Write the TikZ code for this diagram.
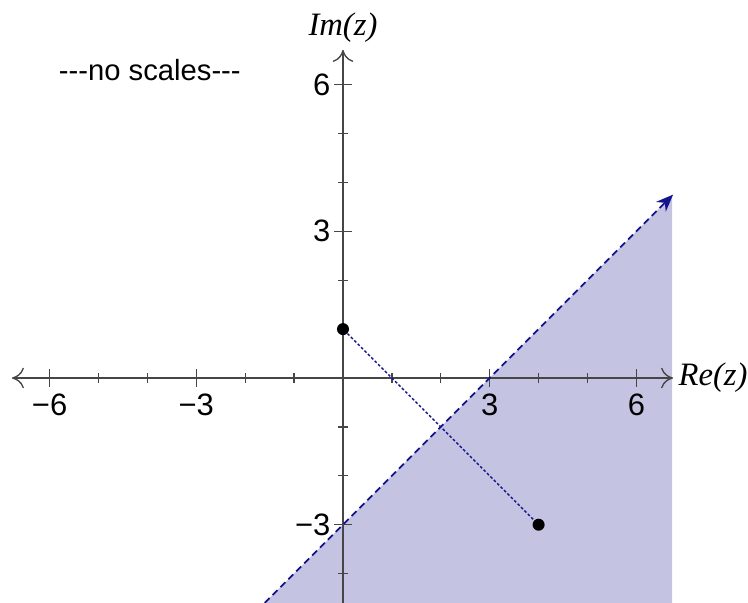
\documentclass[tikz,border=0pt]{standalone}
\usepackage{fontspec}
\setmainfont{Liberation Sans}
\newfontfamily\serifit{Liberation Serif}[Scale=1]
\definecolor{axisGray}{RGB}{70, 70, 70}
\definecolor{lineNavy}{RGB}{20, 20, 140}
\definecolor{halfLavender}{RGB}{196, 196, 226}
\usetikzlibrary{arrows.meta,positioning,calc}

\tikzset{
    axis/.style={draw=axisGray,line width=0.8pt,{To[length=7pt,width=12pt]}-{To[length=7pt,width=12pt]}},
    ticklbl/.style={font=\fontsize{18}{20}\selectfont,inner sep=2pt},
    axislbl/.style={font=\fontsize{19}{21}\selectfont\serifit\itshape,inner sep=1pt},
    dot/.style={circle,fill=black,inner sep=0pt,minimum size=7pt}
}

\begin{document}
\begin{tikzpicture}[x=1cm,y=1cm]
    \useasboundingbox (-7.014,-4.60) rectangle (8.282,7.73);
    % half plane Re(z) - Im(z) > 3
    \fill[halfLavender] (-1.60,-4.60) -- (6.73,3.73) -- (6.73,-4.60) -- cycle;
    % axes
    \coordinate (xl) at (-6.77,0);
    \coordinate (xr) at (6.75,0);
    \coordinate (yb) at (0,-4.60);
    \coordinate (yt) at (0,6.71);
    \draw[axisGray,line width=0.8pt,-{To[length=7pt,width=12pt]}] (yb) -- (yt);
    \draw[axis] (xl) -- (xr);
    \foreach \k in {-6,...,6} {
        \draw[axisGray,line width=0.8pt] (\k,-0.1) -- (\k,0.1);
    }
    \foreach \k in {-4,...,6} {
        \draw[axisGray,line width=0.8pt] (-0.1,\k) -- (0.1,\k);
    }
    \foreach \k/\t in {-6/−6,-3/−3,3/3,6/6} {
        \draw[axisGray,line width=0.8pt] (\k,-0.18) -- (\k,0.18);
        \node[ticklbl,below=2pt] (xt\k) at (\k,-0.18) {\t};
    }
    \foreach \k/\t in {-3/−3,3/3,6/6} {
        \draw[axisGray,line width=0.8pt] (-0.18,\k) -- (0.18,\k);
        \node[ticklbl,left=0pt] (yt\k) at (-0.18,\k) {\t};
    }
    \node[axislbl,right=2pt] (relbl) at (xr) {Re(z)};
    \node[axislbl,above=3pt] (imlbl) at (yt) {Im(z)};
    \node[font=\fontsize{17}{19}\selectfont] (note) at (-3.95,6.30) {{-}{-}{-}no scales{-}{-}{-}};
    % boundary line
    \coordinate (lb) at (-1.60,-4.60);
    \coordinate (lt) at (6.75,3.75);
    \draw[lineNavy,line width=1pt,dash pattern=on 4pt off 2.5pt,-{Stealth[length=10pt,width=8pt]}] (lb) -- (lt);
    % the two points
    \node[dot] (p) at (0,1) {};
    \node[dot] (q) at (4,-3) {};
    \draw[lineNavy,line width=0.9pt,dash pattern=on 1.6pt off 1.2pt] (p) -- (q);
\end{tikzpicture}
\end{document}
